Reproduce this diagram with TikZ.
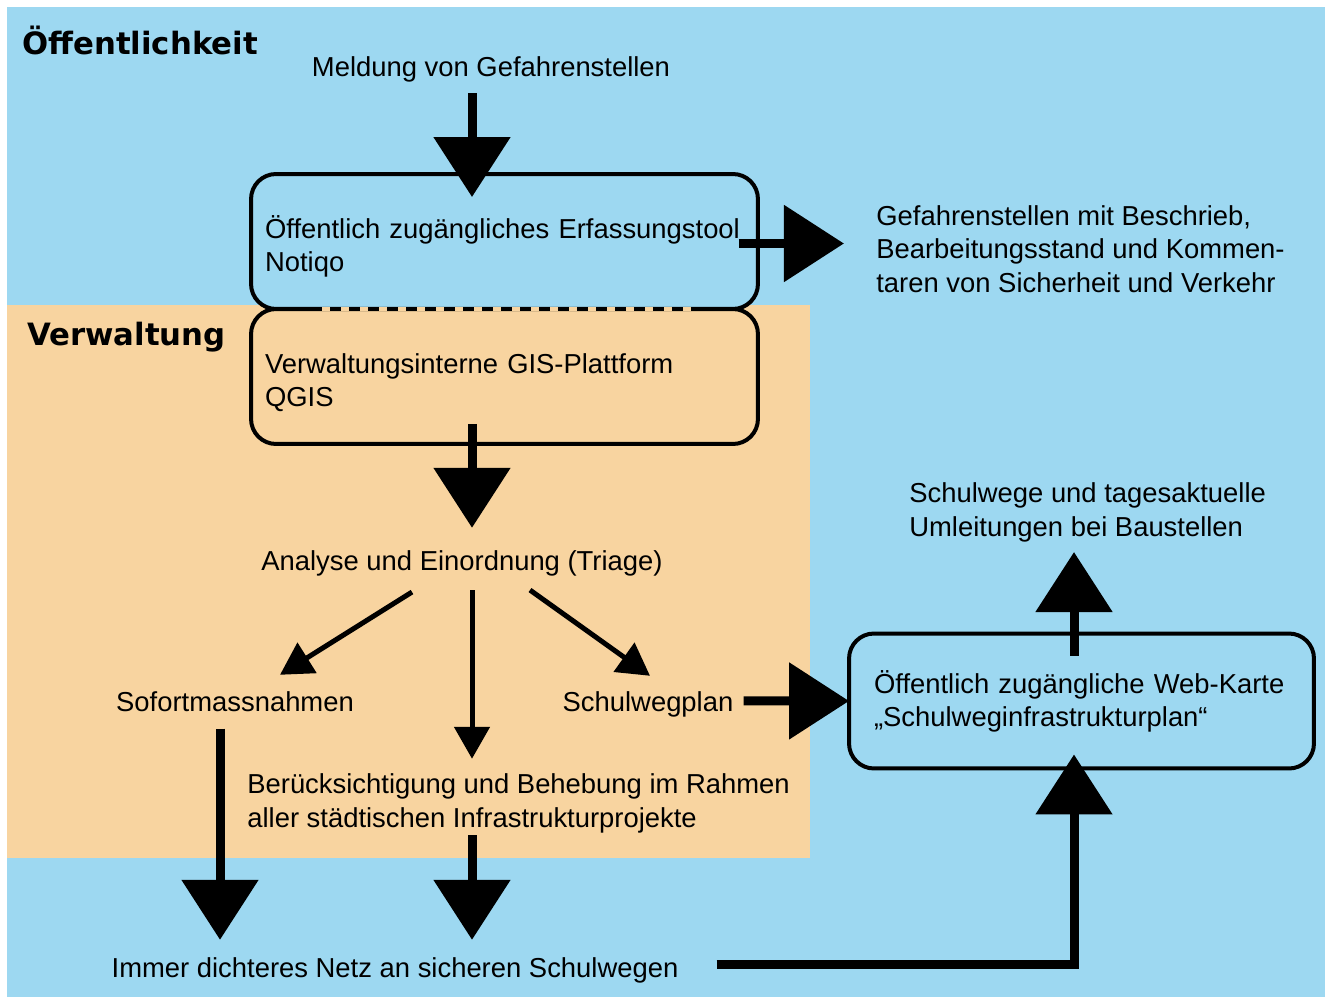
\documentclass[tikz,border=0pt]{standalone}
\usepackage{fontspec}
\setmainfont{Liberation Sans}
\newfontfamily\titlefont{DejaVu Sans}
\usetikzlibrary{arrows.meta,calc}
\definecolor{himmel}{RGB}{157,216,241}
\definecolor{sand}{RGB}{248,212,160}
\newcommand\diagfont{\fontsize{15.6}{18.8}\selectfont}
\newcommand\tiefer{\rule{0pt}{0.64cm}}
\begin{document}
\begin{tikzpicture}[x=0.02cm, y=-0.02cm, font=\diagfont, line join=miter,
  txt/.style={inner sep=0pt, align=left},
  head/.style={inner sep=0pt, font=\titlefont\bfseries\fontsize{17.5}{21}\selectfont},
  box/.style={draw, line width=0.08cm, rounded corners=0.5cm, outer sep=0pt, inner xsep=0.28cm, text width=9.58cm, minimum height=2.7cm, align=left},
  bigpfeil/.style={line width=0.18cm, -{Triangle[length=1.2cm,width=1.5cm]}},
  pfeil/.style={line width=0.1cm, -{Triangle[length=0.64cm,width=0.7cm]}}]
\useasboundingbox (0,0) rectangle (1325,997);
\fill[himmel] (7,7) rectangle (1325,997);
\fill[sand] (7,305) rectangle (810,858);
% Bereiche
\node[head, anchor=base west] (oeff) at (22,55) {Öffentlichkeit};
\node[head, anchor=base west] (verw) at (27,345) {Verwaltung};
% Knoten
\node[txt, anchor=base] (meldung) at (491,77) {Meldung von Gefahrenstellen};
\node[box, fill=himmel] (notiqo) at (504.5,241.5) {\tiefer Öffentlich zugängliches Erfassungstool\\Notiqo};
\node[box, fill=sand] (qgis) at (504.5,376.5) {\tiefer Verwaltungsinterne GIS-Plattform\\QGIS};
\node[txt, anchor=base west] (info) at (876,292) {Gefahrenstellen mit Beschrieb,\\Bearbeitungsstand und Kommen-\\taren von Sicherheit und Verkehr};
\node[txt, anchor=base] (triage) at (462,570) {Analyse und Einordnung (Triage)};
\node[txt, anchor=base] (sofort) at (235,711) {Sofortmassnahmen};
\node[txt, anchor=base] (plan) at (648,711) {Schulwegplan};
\node[txt, anchor=base west] (projekte) at (247,827) {Berücksichtigung und Behebung im Rahmen\\aller städtischen Infrastrukturprojekte};
\node[box, fill=himmel, text width=8.3cm, inner xsep=0.5cm] (webkarte) at (1081.5,701) {Öffentlich zugängliche Web-Karte\\„Schulweginfrastrukturplan“};
\node[txt, anchor=base west] (schulwege) at (909,536) {Schulwege und tagesaktuelle\\Umleitungen bei Baustellen};
\node[txt, anchor=base] (netz) at (395,977) {Immer dichteres Netz an sicheren Schulwegen};
% gemeinsame Kante
\draw[sand, line width=0.08cm] ($(qgis.north west)+(60,0)$) -- ($(qgis.north east)+(-60,0)$);
\draw[line width=0.08cm, dash pattern=on 0.22cm off 0.16cm] ($(qgis.north west)+(60,0)$) -- ($(qgis.north east)+(-60,0)$);
% Pfeile
\coordinate (achse) at (472,0);
\coordinate (rechts) at (1074,0);
\draw[bigpfeil] ($(meldung.south -| achse)+(0,10)$) -- ($(notiqo.north -| achse)+(0,23)$);
\draw[bigpfeil] ($(notiqo.east)+(-19,2)$) -- ($(notiqo.east)+(86,2)$);
\draw[bigpfeil] ($(qgis.south -| achse)+(0,-20)$) -- ($(triage.north -| achse)+(0,-22)$);
\draw[pfeil] ($(triage.south)+(-50,16)$) -- ($(sofort.north)+(45,-16)$);
\draw[pfeil] ($(triage.south -| achse)+(0,14)$) -- ($(projekte.north -| achse)+(0,-15)$);
\draw[pfeil] ($(triage.south)+(68,14)$) -- ($(plan.north)+(2,-15)$);
\draw[bigpfeil] ($(plan.east)+(10,-3)$) -- (webkarte.west);
\draw[bigpfeil] ($(webkarte.north -| rechts)+(0,22)$) -- ($(schulwege.south -| rechts)+(0,10)$);
\draw[bigpfeil] ($(sofort.south)+(-15,17)$) -- ($(sofort.south |- netz.north)+(-15,-17)$);
\draw[bigpfeil] ($(projekte.south -| achse)+(0,2)$) -- ($(netz.north -| achse)+(0,-17)$);
\draw[bigpfeil] ($(netz.east)+(38,-5)$) -| ($(webkarte.south -| rechts)+(0,-14)$);
\end{tikzpicture}
\end{document}
